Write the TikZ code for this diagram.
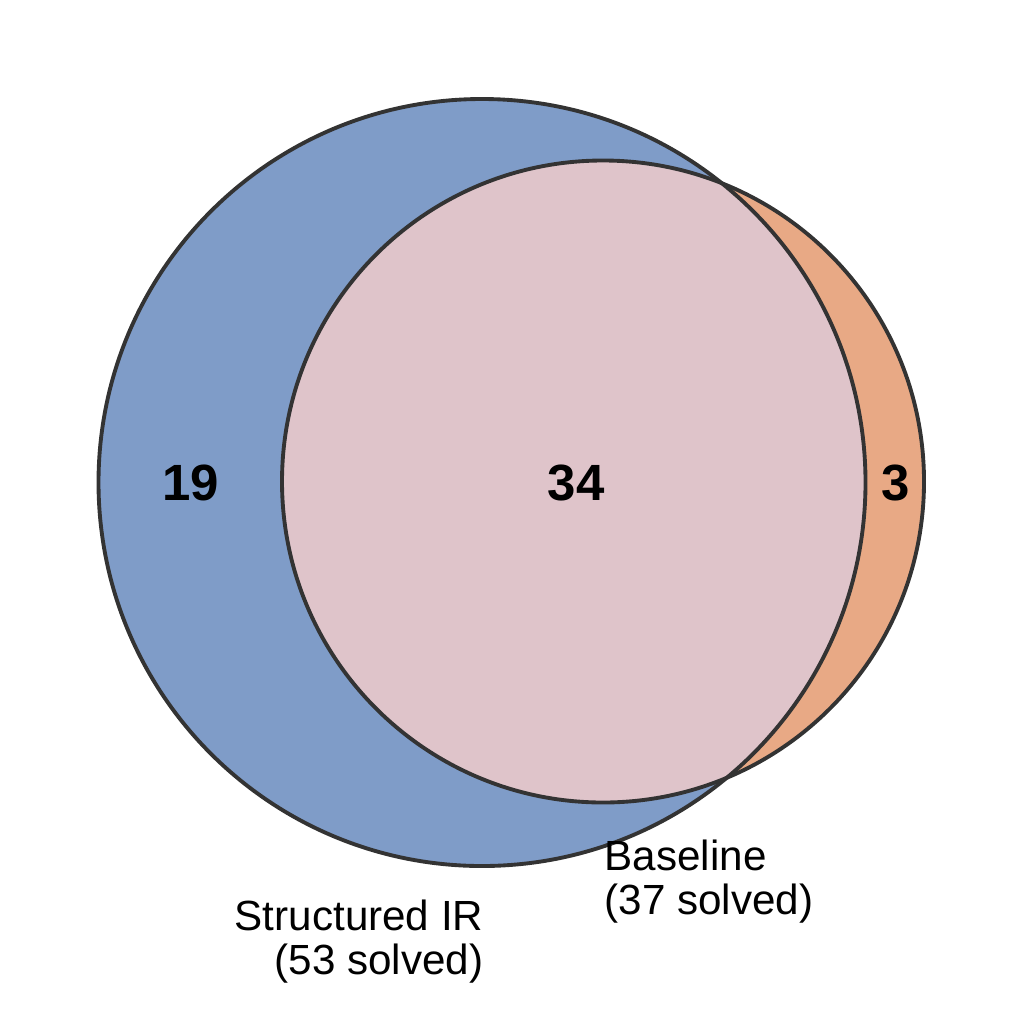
\documentclass[tikz,border=0pt]{standalone}
\usepackage{fontspec}
\setmainfont{Liberation Sans}
\usepackage{xcolor}
\usetikzlibrary{positioning}
\definecolor{irBlue}{HTML}{7F9CC8}
\definecolor{baseOrange}{HTML}{E8A985}
\definecolor{bothPink}{HTML}{DFC4CA}
\definecolor{edgeGray}{HTML}{333333}

\begin{document}
\begin{tikzpicture}[
    count/.style={font=\fontsize{14.5}{17}\selectfont\bfseries, inner sep=0pt},
    setlabel/.style={font=\fontsize{12}{12.5}\selectfont, inner sep=0pt},
    ring/.style={draw=edgeGray, line width=1.1pt}
]
\useasboundingbox (0,0) rectangle (10.23,10.15);

\coordinate (irc) at (4.82,5.325);
\coordinate (basec) at (6.03,5.335);

% set areas
\fill[irBlue] (irc) circle (3.835);
\fill[baseOrange] (basec) circle (3.21);
\begin{scope}
  \clip (irc) circle (3.835);
  \fill[bothPink] (basec) circle (3.21);
\end{scope}
\draw[ring] (irc) circle (3.835);
\draw[ring] (basec) circle (3.21);

% counts
\node[count] (onlyir) at (1.91,5.32) {19};
\node[count] (both) at (5.76,5.32) {34};
\node[count] (onlybase) at (8.96,5.32) {3};

% set names
\node[setlabel, align=right, anchor=east] (irname) at (4.84,0.73) {Structured IR\\(53 solved)};
\node[setlabel, align=left, anchor=west] (basename) at (6.04,1.33) {Baseline\\(37 solved)};

\end{tikzpicture}
\end{document}
